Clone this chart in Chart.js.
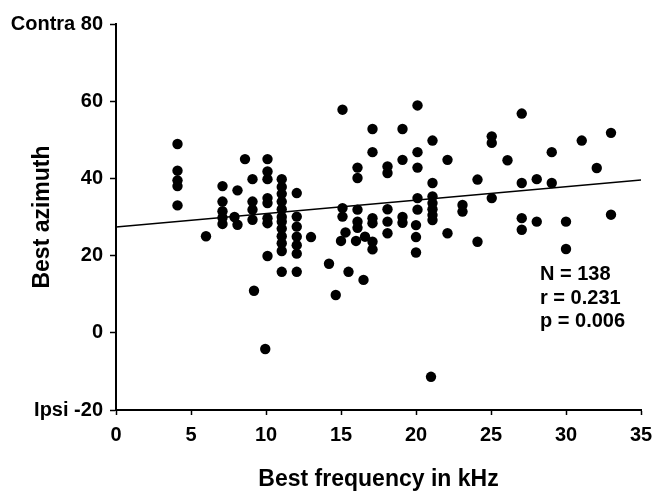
<!DOCTYPE html>
<html><head><meta charset="utf-8">
<style>html,body{margin:0;padding:0;background:#fff}#wrap{width:654px;height:494px}</style>
<script src="https://cdn.jsdelivr.net/npm/chart.js@4.4.1/dist/chart.umd.min.js"></script>
</head><body><div id="wrap"><canvas id="c" width="654" height="494"></canvas></div>
<script>
// Best frequency (kHz) of each unit
const bestFrequency = [
  4.1,4.1,4.1,4.1,4.1,
  6.0,
  7.1,7.1,7.1,7.1,7.1,
  8.1,7.9,8.1,
  8.6,
  9.1,9.1,9.1,9.1,9.2,
  10.1,10.1,10.1,10.1,10.1,10.1,10.1,10.1,9.95,
  11.05,11.05,11.05,11.05,11.05,11.05,11.05,11.05,11.05,11.05,11.05,11.05,
  12.05,12.05,12.05,12.05,12.05,12.05,12.05,
  13.0,14.2,14.65,
  15.1,15.1,15.1,15.3,15.0,15.5,
  16.1,16.1,16.1,16.1,16.1,16.0,16.6,16.5,
  17.1,17.1,17.1,17.1,17.1,17.1,
  18.1,18.1,18.1,18.1,18.1,
  19.1,19.1,19.1,19.1,
  20.1,20.1,20.1,20.1,20.1,20.0,20.0,20.0,
  21.1,21.1,21.1,21.1,21.1,21.1,21.1,21.0,
  22.1,22.1,
  23.1,23.1,
  24.1,24.1,
  25.05,25.05,25.05,
  26.1,
  27.05,27.05,27.05,27.05,
  28.05,28.05,
  29.05,29.05,
  30.0,30.0,
  31.05,
  32.05,
  33.0,33.0
];
// Best azimuth (deg) of each unit
const bestAzimuth = [
  48.9,42,39.5,38,33,
  25,
  38,34,31.5,29.8,28.2,
  36.9,30,28,
  45,
  39.8,34,31.9,29.3,10.9,
  45,41.8,39.8,34.9,33.6,29.7,28.4,19.9,-4.2,
  39.8,37.8,36,34,32,30,28.8,27,25,23.2,21.2,15.8,
  36.2,30.1,27.5,24.9,22.7,20.5,15.8,
  24.8,17.9,9.8,
  57.8,32.3,30.1,26,23.8,15.8,
  42.8,40.1,31.9,28.8,27.2,23.8,24.9,13.7,
  52.8,46.8,29.7,28.4,23.6,21.6,
  43.1,41.4,32,28.8,25.8,
  52.8,44.8,30,28.5,
  58.9,46.8,42.8,34.9,31.9,27.9,24.8,20.8,
  49.8,38.8,35.3,33.6,32,30.5,29.2,-11.4,
  44.8,25.8,
  33.1,31.4,
  39.7,23.6,
  50.9,49.2,34.9,
  44.7,
  56.8,38.8,29.7,26.7,
  39.8,28.8,
  46.8,38.8,
  28.8,21.7,
  49.8,
  42.7,
  51.8,30.6
];
// Regression line end points
const regressionX = [0, 35];
const regressionY = [27.4, 39.6];
// Tick values and labels
const xTickValues = [0,5,10,15,20,25,30,35];
const yTickValues = [-20,0,20,40,60,80];
const yTickLabels = ['Ipsi -20','0','20','40','60','Contra 80'];
const statsLines = ['N = 138','r = 0.231','p = 0.006'];

const FONT = '"Liberation Sans", Arial, Helvetica, sans-serif';

const points = bestFrequency.map((x,i)=>({x:x, y:bestAzimuth[i]}));
const regLine = regressionX.map((x,i)=>({x:x, y:regressionY[i]}));

const statsPlugin = {
  id:'stats',
  afterDraw(chart){
    const ctx = chart.ctx;
    ctx.save();
    ctx.fillStyle = '#000';
    ctx.font = 'bold 20px ' + FONT;
    ctx.textAlign = 'left';
    ctx.textBaseline = 'alphabetic';
    const a = chart.chartArea;
    statsLines.forEach((t,i)=>{
      ctx.fillText(t, a.left + 424, a.top + 256 + i*23.5);
    });
    ctx.restore();
  }
};

new Chart(document.getElementById('c'), {
  type:'scatter',
  data:{
    datasets:[
      {
        type:'line',
        data: regLine,
        borderColor:'#000',
        borderWidth:1.5,
        pointRadius:0,
        fill:false,
        order:2
      },
      {
        data: points,
        backgroundColor:'#000',
        borderColor:'#000',
        pointRadius:5.2,
        pointBorderWidth:0,
        order:1
      }
    ]
  },
  options:{
    responsive:false,
    animation:false,
    devicePixelRatio:1,
    layout:{padding:{left:0,right:13,top:24,bottom:0}},
    plugins:{legend:{display:false},tooltip:{enabled:false}},
    scales:{
      x:{
        type:'linear',
        min:0,max:35,
        afterFit(s){ s.height = 84; s.paddingRight = 0; s.paddingLeft = 0; },
        afterBuildTicks(s){ s.ticks = xTickValues.map(v=>({value:v})); },
        ticks:{color:'#000',font:{family:FONT,size:20,weight:'bold'},padding:8,maxRotation:0,autoSkip:false,
          callback:(v)=>String(v)},
        grid:{display:true,drawOnChartArea:false,drawTicks:true,tickLength:5,tickColor:'#000',tickWidth:1.5},
        border:{display:true,color:'#000',width:2},
        title:{display:true,text:'Best frequency in kHz',color:'#000',
          font:{family:FONT,size:23,weight:'bold'},padding:{top:0,bottom:1}}
      },
      y:{
        type:'linear',
        min:-20,max:80,
        afterFit(s){ s.width = 116; },
        afterBuildTicks(s){ s.ticks = yTickValues.map(v=>({value:v})); },
        ticks:{color:'#000',font:{family:FONT,size:20,weight:'bold'},padding:7,autoSkip:false,
          callback:(v)=>{const i=yTickValues.indexOf(v);return i>=0?yTickLabels[i]:'';}},
        grid:{display:true,drawOnChartArea:false,drawTicks:true,tickLength:6,tickColor:'#000',tickWidth:1.5},
        border:{display:true,color:'#000',width:2},
        title:{display:true,text:'Best azimuth',color:'#000',
          font:{family:FONT,size:23,weight:'bold'},padding:{top:29,bottom:0}}
      }
    }
  },
  plugins:[statsPlugin]
});
</script>
</body></html>
